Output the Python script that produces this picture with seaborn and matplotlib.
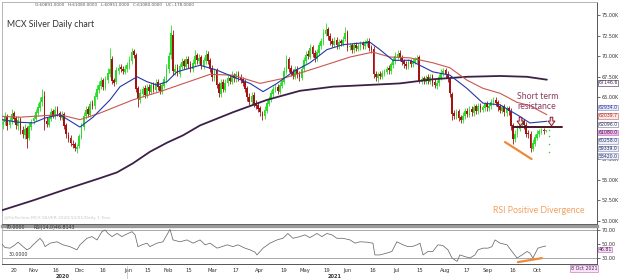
import numpy as np
import matplotlib
matplotlib.use("Agg")
import matplotlib.pyplot as plt
from matplotlib.lines import Line2D
from matplotlib.path import Path
import seaborn as sns

# ---------------- data (prices in thousands of rupees) ----------------
opens = [61.6, 62.0, 62.7, 61.6, 62.1, 63.1, 62.5, 61.5, 62.4, 61.1, 60.4, 61.3, 60.1,
         61.4, 62.1, 62.4, 63.1, 63.7, 64.4, 65.2, 62.1,
         61.7, 62.4, 63.3, 62.7, 63.6, 63.1, 62.5,
         63.0, 61.6, 60.4, 60.1, 59.4, 59.3, 58.7, 59.1,
         60.2, 61.4, 62.7, 63.6, 62.9, 64.3, 63.9, 65.1, 65.9, 66.4, 67.1, 66.2, 67.1, 67.9, 69.6, 67.1,
         66.9, 68.2, 68.7, 68.5, 68.1, 68.4,
         68.8, 69.4, 70.6, 70.1, 66.1,
         64.7, 65.4, 66.1, 65.2, 66.3, 65.7, 66.6, 65.9, 66.9, 66.4,
         65.7, 66.4, 67.1, 68.4, 70.1, 72.6,
         68.1, 68.6, 67.9, 68.7, 69.4, 68.7, 69.7, 69.1, 68.4, 69.1, 70.1, 69.4, 69.9, 68.7, 69.4, 70.3, 69.5, 68.6, 67.4,
         68.3, 66.6, 65.4, 66.9, 65.9, 66.7, 67.4, 66.9, 67.7, 67.2, 67.9, 67.5, 67.2,
         66.9, 66.1, 65.1, 64.4, 65.3, 64.3, 64.1, 63.7, 63.1, 62.7,
         63.4, 64.2, 64.7, 65.4, 65.9, 66.3, 65.7, 66.4, 66.9, 68.1,
         69.6, 68.6, 68.1, 67.5, 68.5, 67.9,
         67.4, 68.4, 69.4, 70.3, 69.9, 71.1, 70.4, 69.7, 70.4, 71.2, 71.7, 72.7,
         73.3, 72.5, 71.9, 71.4, 72.0, 71.2, 71.8, 71.5,
         72.1, 72.9, 71.1, 71.3, 70.7, 71.4, 70.9, 71.1, 71.6, 71.2, 71.5, 71.9, 71.1,
         70.9, 67.9, 67.4, 67.9, 67.5, 67.9, 68.1, 68.6,
         68.2, 68.9, 69.4, 69.9, 70.4, 69.9, 69.4, 69.1, 68.7, 69.4, 69.0, 69.3, 69.5,
         69.9,
         66.9, 67.3, 66.9, 67.5, 66.9, 67.6, 66.9, 66.4, 66.7, 67.4, 67.9, 68.3,
         67.9, 67.2, 65.4,
         63.1, 62.7, 63.3, 62.6, 62.2, 62.7,
         63.4, 62.9, 63.6, 63.1, 63.9, 63.3, 64.0, 63.5, 63.7, 64.3, 63.7, 63.9, 64.4,
         64.7, 64.4, 63.9, 63.4, 63.9, 63.1, 63.7,
         63.4, 61.6,
         59.9, 60.5, 61.2, 61.7, 62.1, 61.7,
         60.7, 60.6,
         58.7, 59.4, 60.1, 60.5, 60.8, 61.1, 60.891]
closes = [62.0, 62.8, 61.5, 62.2, 63.0, 62.4, 61.6, 62.3, 61.0, 60.5, 61.2, 60.0, 61.5,
          62.0, 62.5, 63.2, 63.8, 64.5, 65.0, 62.0, 61.8,
          62.5, 63.2, 62.8, 63.5, 63.0, 62.6, 62.9,
          61.5, 60.5, 60.0, 59.5, 59.2, 58.9, 59.0, 60.3,
          61.5, 62.8, 63.5, 63.0, 64.2, 64.0, 65.2, 66.0, 66.5, 67.0, 66.3, 67.2, 68.0, 68.5, 67.0, 66.8,
          68.3, 68.6, 68.4, 68.2, 68.5, 68.9,
          69.5, 70.5, 70.2, 66.0, 64.8,
          65.5, 66.0, 65.3, 66.2, 65.8, 66.5, 66.0, 66.8, 66.3, 65.8,
          66.5, 67.2, 68.5, 70.0, 72.8, 68.2,
          68.5, 68.0, 68.8, 69.3, 68.8, 69.6, 69.0, 68.5, 69.2, 70.0, 69.5, 69.8, 68.8, 69.5, 70.2, 69.4, 68.5, 67.5, 68.2,
          66.5, 65.5, 66.8, 66.0, 66.8, 67.3, 67.0, 67.6, 67.3, 67.8, 67.4, 67.1, 66.8,
          66.0, 65.0, 64.5, 65.2, 64.2, 64.0, 63.6, 63.2, 62.8, 63.5,
          64.3, 64.8, 65.5, 66.0, 66.2, 65.8, 66.5, 67.0, 68.2, 69.5,
          68.5, 68.0, 67.6, 68.4, 67.8, 67.5,
          68.5, 69.5, 70.2, 70.0, 71.0, 70.3, 69.8, 70.5, 71.3, 71.8, 72.8, 73.2,
          72.4, 71.8, 71.5, 71.9, 71.3, 71.7, 71.6, 72.0,
          72.8, 71.0, 71.2, 70.8, 71.3, 71.0, 71.2, 71.5, 71.3, 71.6, 71.8, 71.0, 70.8,
          67.8, 67.5, 67.8, 67.6, 68.0, 68.2, 68.5, 68.3,
          69.0, 69.5, 70.0, 70.3, 69.8, 69.3, 69.0, 68.8, 69.3, 69.1, 69.4, 69.6, 69.8,
          67.0,
          67.2, 67.0, 67.4, 67.0, 67.5, 66.8, 66.5, 66.8, 67.5, 68.0, 68.2, 67.8,
          67.3, 65.5, 63.0,
          62.8, 63.2, 62.5, 62.3, 62.8, 63.3,
          63.0, 63.5, 63.2, 63.8, 63.4, 63.9, 63.6, 63.8, 64.2, 63.8, 64.0, 64.5, 64.6,
          64.3, 63.8, 63.5, 63.8, 63.2, 63.6, 63.3,
          61.5, 60.0,
          60.6, 61.3, 61.8, 62.0, 61.6, 60.6,
          60.5, 58.8,
          59.5, 60.2, 60.6, 60.9, 61.0, 60.9, 61.08]
highs = [62.4, 63.2, 63.0, 62.6, 63.6, 63.4, 62.8, 62.7, 62.6, 61.5, 61.8, 61.5, 62.0,
         62.4, 62.9, 63.6, 64.3, 65.0, 66.0, 65.8, 62.6,
         62.9, 63.7, 63.6, 64.0, 63.9, 63.4, 63.3,
         63.2, 61.9, 60.8, 60.4, 59.8, 59.6, 59.4, 60.6,
         61.9, 63.2, 64.0, 64.0, 64.6, 64.7, 65.6, 66.5, 67.0, 67.5, 67.4, 67.6, 68.6, 71.0, 70.0, 67.4,
         68.7, 69.0, 69.0, 68.8, 68.9, 69.3,
         70.0, 71.0, 70.9, 70.4, 66.4,
         66.0, 66.4, 66.5, 66.6, 66.6, 66.9, 66.9, 67.2, 67.2, 66.7,
         66.9, 67.6, 69.0, 70.5, 73.8, 73.2,
         69.0, 69.0, 69.2, 69.8, 69.7, 70.0, 70.0, 69.4, 69.6, 70.8, 70.4, 70.3, 70.2, 69.9, 70.7, 70.6, 69.8, 68.9, 68.6,
         68.6, 66.9, 67.2, 67.2, 67.2, 67.7, 67.7, 68.2, 68.0, 68.2, 68.2, 67.8, 67.5,
         67.2, 66.4, 65.5, 65.6, 65.6, 64.7, 64.4, 64.0, 63.4, 63.9,
         64.7, 65.2, 65.9, 66.4, 66.6, 66.6, 66.9, 67.4, 68.7, 70.2,
         69.9, 68.9, 68.4, 68.8, 68.8, 68.2,
         68.9, 69.9, 70.6, 70.7, 71.5, 71.4, 70.7, 70.9, 71.7, 72.2, 73.3, 74.0,
         73.6, 72.8, 72.2, 72.3, 72.3, 72.1, 72.1, 72.4,
         73.5, 73.2, 71.6, 71.6, 71.7, 71.7, 71.6, 71.9, 71.9, 72.0, 72.2, 72.2, 71.4,
         71.2, 68.2, 68.1, 68.2, 68.3, 68.5, 68.8, 68.9,
         69.3, 69.9, 70.5, 70.7, 70.7, 70.2, 69.7, 69.4, 69.7, 69.7, 69.8, 69.9, 70.2,
         70.2,
         67.6, 67.6, 67.7, 67.8, 67.9, 67.9, 67.2, 67.1, 67.9, 68.4, 68.6, 68.6,
         68.2, 67.5, 65.7,
         63.5, 63.6, 63.6, 62.9, 63.2, 63.7,
         63.7, 63.9, 63.9, 64.2, 64.2, 64.3, 64.3, 64.1, 64.5, 64.6, 64.3, 64.8, 65.0,
         65.0, 64.7, 64.2, 64.1, 64.2, 63.9, 64.0,
         63.7, 61.9,
         61.0, 61.7, 62.2, 62.4, 62.4, 62.0,
         61.0, 60.9,
         59.9, 60.6, 61.0, 61.2, 61.3, 61.3, 61.08]
lows = [61.2, 61.7, 61.1, 61.3, 61.8, 62.0, 61.2, 61.1, 60.6, 60.1, 60.0, 58.8, 59.8,
        61.0, 61.8, 62.1, 62.8, 63.4, 64.0, 61.0, 61.4,
        61.4, 62.1, 62.5, 62.4, 62.7, 62.2, 62.2,
        61.2, 60.1, 59.6, 59.1, 58.8, 58.5, 58.2, 58.8,
        59.9, 61.0, 62.4, 62.6, 62.6, 63.6, 63.6, 64.8, 65.5, 66.0, 65.9, 65.9, 66.8, 67.5, 66.6, 66.4,
        66.6, 67.9, 68.1, 67.9, 67.8, 68.1,
        68.5, 69.0, 69.8, 65.6, 63.8,
        64.3, 65.0, 64.9, 64.9, 65.4, 65.4, 65.6, 65.6, 65.9, 65.4,
        65.4, 66.1, 66.8, 68.0, 69.7, 67.7,
        67.7, 67.6, 67.5, 68.4, 68.4, 68.4, 68.6, 68.1, 68.1, 68.8, 69.1, 69.0, 68.4, 68.4, 69.1, 69.0, 68.1, 67.0, 67.0,
        66.1, 65.0, 65.1, 65.6, 65.6, 66.4, 66.6, 66.6, 66.9, 66.9, 67.0, 66.7, 66.4,
        65.6, 64.6, 64.1, 64.1, 63.8, 63.6, 63.2, 62.8, 62.3, 62.4,
        63.1, 63.9, 64.4, 65.1, 65.6, 65.4, 65.4, 66.1, 66.6, 67.8,
        68.1, 67.6, 67.2, 67.2, 67.4, 67.0,
        67.1, 68.1, 69.1, 69.6, 69.6, 69.9, 69.3, 69.4, 70.1, 70.9, 71.4, 72.4,
        72.0, 71.4, 71.1, 71.1, 70.9, 70.9, 71.2, 71.2,
        71.8, 70.6, 70.8, 70.4, 70.4, 70.6, 70.6, 70.8, 70.9, 70.9, 71.2, 70.6, 70.4,
        67.4, 67.0, 66.9, 67.2, 67.2, 67.6, 67.8, 67.9,
        67.9, 68.6, 69.1, 69.6, 69.4, 68.9, 68.6, 68.4, 68.4, 68.7, 68.7, 69.0, 69.2,
        66.7,
        66.6, 66.6, 66.6, 66.6, 66.6, 66.4, 66.1, 66.0, 66.4, 67.1, 67.6, 67.4,
        66.9, 65.1, 62.3,
        62.4, 62.4, 62.1, 61.9, 61.9, 62.4,
        62.6, 62.6, 62.8, 62.8, 63.0, 63.0, 63.2, 63.2, 63.4, 63.4, 63.4, 63.6, 64.1,
        63.9, 63.4, 63.1, 63.1, 62.8, 62.8, 62.9,
        61.1, 59.3,
        59.6, 60.2, 60.9, 61.4, 61.2, 60.2,
        60.1, 58.4,
        58.5, 59.1, 59.8, 60.2, 60.5, 60.6, 60.85]

# moving averages: (bar index, value in thousands)
ma20_x = [-0.5, 6.4, 13.8, 19.3, 26.1, 35.3, 41.3, 49.1, 53.7, 61.5, 66.1, 70.6, 75.2, 79.8, 90.4,
          98.2, 105.5, 113.3, 119.3, 125.7, 133.0, 140.8, 148.6, 156.0, 168.3, 172.9, 178.9, 186.7,
          197.2, 205.0, 212.8, 220.2, 228.0, 235.8, 241.7, 249.5]
ma20_v = [62.3, 62.0, 61.9, 62.5, 62.9, 61.4, 62.6, 64.7, 66.3, 67.5, 66.9, 66.5, 66.9, 68.1, 68.9,
          68.3, 67.5, 66.7, 65.7, 66.7, 68.1, 69.2, 70.8, 71.4, 71.7, 70.8, 69.5, 69.5,
          68.1, 67.7, 66.1, 64.3, 64.1, 62.9, 61.9, 62.1]
ma50_x = [-0.5, 7.8, 26.1, 35.3, 44.5, 59.6, 72.0, 95.0, 105.5, 117.9, 128.4, 144.0, 159.2, 169.7,
          177.5, 186.7, 197.2, 205.0, 212.8, 220.2, 228.0, 235.8, 241.7, 249.5]
ma50_v = [62.7, 62.6, 62.9, 62.3, 63.1, 64.7, 65.7, 67.8, 67.7, 66.7, 67.3, 68.6, 69.9, 70.5,
          69.9, 69.8, 69.2, 68.6, 67.1, 66.1, 65.5, 64.4, 64.0, 62.9]
ma200_x = [-0.5, 13.8, 29.4, 44.5, 52.3, 59.6, 67.4, 75.2, 82.6, 90.4, 105.5, 121.1, 136.2, 151.4,
           167.0, 182.1, 197.2, 212.8, 228.0, 240.4, 249.5]
ma200_v = [51.3, 52.5, 53.9, 55.2, 55.9, 57.0, 58.4, 59.5, 60.4, 61.6, 63.2, 64.7, 65.8, 66.3,
           66.5, 66.7, 67.2, 67.5, 67.6, 67.5, 67.15]

# RSI(14)
rsi_x = [-0.5, 0.9, 3.2, 5.5, 6.9, 9.2, 11.0, 12.4, 13.8, 17.0, 18.3, 19.3, 21.6, 24.8, 27.5, 30.7,
         33.9, 35.3, 38.5, 40.8, 43.1, 45.4, 46.8, 48.2, 50.0, 52.3, 54.6, 56.0, 59.2, 60.6, 61.9,
         63.8, 66.1, 67.4, 70.6, 73.4, 75.2, 76.6, 78.0, 81.2, 84.4, 87.2, 90.4, 92.7, 95.0, 98.2,
         100.5, 102.8, 105.5, 107.8, 111.0, 113.3, 115.6, 116.5, 119.3, 122.5, 125.7, 128.4, 130.7,
         133.0, 136.2, 138.5, 140.8, 144.0, 146.3, 148.6, 150.9, 153.2, 156.0, 159.2, 161.5, 163.8,
         167.0, 169.7, 170.6, 172.9, 176.1, 178.4, 180.7, 183.5, 185.8, 187.6, 189.9, 191.3, 192.7,
         195.0, 197.2, 199.5, 201.8, 204.1, 206.0, 208.3, 209.6, 211.9, 214.2, 216.5, 217.9, 220.2,
         222.5, 224.3, 225.7, 228.0, 231.2, 233.5, 235.8, 238.1, 240.4, 241.7, 243.1, 245.4, 247.7,
         249.0]
rsi_v = [49.6, 44.7, 43.8, 48.6, 52.4, 46.0, 41.4, 43.8, 48.6, 58.0, 53.0, 46.0, 51.0, 53.0, 48.6, 46.0,
         41.4, 48.6, 58.0, 60.5, 55.7, 67.6, 70.0, 65.0, 60.5, 65.0, 60.5, 63.0, 67.6, 63.0, 46.0,
         48.6, 51.0, 46.0, 51.0, 53.0, 63.0, 71.0, 55.7, 53.0, 55.7, 51.0, 55.7, 48.6, 51.0, 43.8,
         46.0, 48.6, 46.0, 48.6, 43.8, 41.4, 38.0, 34.0, 43.8, 51.0, 55.7, 58.0, 65.0,
         58.0, 60.5, 63.0, 59.0, 65.0, 60.5, 65.0, 63.0, 58.0, 58.0, 55.7, 51.0, 53.0,
         52.4, 51.0, 34.0, 34.0, 36.7, 39.0, 53.0, 48.6, 46.0, 46.0, 48.6, 51.0, 34.0,
         39.0, 39.0, 48.6, 47.6, 41.4, 29.5, 24.7, 34.0, 31.6, 29.5, 34.0, 41.4, 43.8,
         43.8, 46.0, 55.7, 51.0, 48.6, 39.0, 29.5, 34.0, 39.0, 36.7, 29.5, 43.8, 46.0,
         46.81]

# axis labels (62.50K and 60.00K sit behind the level boxes in the original)
price_ticks = [50.0, 52.5, 55.0, 57.5, 60.0, 62.5, 65.0, 67.5, 70.0, 72.5, 75.0]
price_hidden = [60.0, 62.5]
rsi_ticks = [30, 50, 70]
date_tick_pos = [5.0, 13.8, 24.3, 35.3, 45.9, 57.3, 66.5, 75.7, 85.3, 96.3, 106.9, 117.9, 128.9,
                 138.5, 148.6, 157.8, 169.7, 180.7, 191.3, 202.8, 212.8, 222.5, 234.0, 245.0]
date_tick_labels = ["20", "Nov", "16", "Dec", "16", "Jan", "15", "Feb", "15", "Mar", "17", "Apr",
                    "19", "May", "19", "Jun", "16", "Jul", "15", "Aug", "17", "Sep", "16", "Oct"]

# level boxes on the right axis
level_labels = ["67146.6", "62934.0", "62039.7", "62096.0", "61080.0", "60258.0", "59339.0", "58420.0"]
support_dots = [61.08, 60.258, 59.339, 58.42]
resistance_level = 61.35
divergence_price = ([230.3, 242.5], [59.58, 57.52])
divergence_rsi = ([236.2, 247.2], [23.6, 29.4])
arrow_idx = [237.0, 251.5]

# ---------------- styling / layout ----------------
sns.set_theme(style="white")
plt.rcParams['font.family'] = ['DejaVu Sans']

W, H = 620, 279
fig = plt.figure(figsize=(6.2, 2.79), dpi=100)
fig.patch.set_facecolor("white")


def fx(px):
    return px / W


def fy(py):
    return 1 - py / H


ax = fig.add_axes([fx(2), fy(224), fx(597) - fx(2), fy(2) - fy(224)])
rax = fig.add_axes([fx(2), fy(264), fx(597) - fx(2), fy(226) - fy(264)])

XL = (-0.46, 272.5)
GREEN = "#2bdc2b"
RED = "#a51212"

o = np.array(opens)
c = np.array(closes)
h = np.array(highs)
lo = np.array(lows)
x = np.arange(len(c))
up = c >= o
cols = np.where(up, GREEN, RED)

ax.vlines(x, lo, h, colors=cols, lw=0.6, zorder=2)
ax.bar(x, np.maximum(np.abs(c - o), 0.07), bottom=np.minimum(o, c), width=0.8,
       color=cols, linewidth=0, zorder=2)

sns.lineplot(x=ma200_x, y=ma200_v, ax=ax, color="#3b2147", lw=1.3, zorder=3)
sns.lineplot(x=ma50_x, y=ma50_v, ax=ax, color="#c8574f", lw=0.8, zorder=3)
sns.lineplot(x=ma20_x, y=ma20_v, ax=ax, color="#2536a8", lw=0.8, zorder=3)

TICK_FS = 3.5
ax.set_xlim(*XL)
ax.set_ylim(49.636, 76.578)
ax.set_xticks([])
ax.yaxis.tick_right()
ax.set_yticks(price_ticks)
ax.set_yticklabels(["" if t in price_hidden else f"{t:.2f}K" for t in price_ticks],
                   fontsize=TICK_FS, color="#333333")
ax.tick_params(axis="y", length=2, width=0.5, pad=1, colors="#333333")
for s in ["left", "top"]:
    ax.spines[s].set_color("#aaaaaa")
    ax.spines[s].set_linewidth(0.6)
for s in ["right", "bottom"]:
    ax.spines[s].set_color("#555555")
    ax.spines[s].set_linewidth(0.7)

# annotations on the price panel
ax.text(1.8, 73.9, "MCX Silver Daily chart", fontsize=6.3, color="#333333",
        family=["Lato", "DejaVu Sans"], va="center", ha="left")
ax.text(235.8, 65.17, "Short term", fontsize=6.3, color="#8a3a62",
        family=["Lato", "DejaVu Sans"], va="center", ha="left")
ax.text(235.8, 63.95, "resistance", fontsize=6.3, color="#8a3a62",
        family=["Lato", "DejaVu Sans"], va="center", ha="left")
ax.text(224.8, 51.33, "RSI Positive Divergence", fontsize=6.3, color="#f0a060",
        family=["Lato", "DejaVu Sans"], va="center", ha="left")
ax.text(0.5, 50.35, "@FinTechno MCX SILVER 2020/10/05/Daily 1 Year", fontsize=3.2,
        color="#c8c8c8", va="center", ha="left")

ax.plot([234, 256.5], [resistance_level, resistance_level], color="#4a1526", lw=1.4, zorder=4)
ax.plot(*divergence_price, color="#ee8a3a", lw=1.6, zorder=4)

# block "down" arrow markers above the resistance line
arrow_marker = Path([(-0.3, 1.0), (0.3, 1.0), (0.3, 0.1), (0.8, 0.1), (0.0, -1.0),
                     (-0.8, 0.1), (-0.3, 0.1), (-0.3, 1.0)])
ax.scatter(arrow_idx, [resistance_level + 0.75] * len(arrow_idx), marker=arrow_marker, s=38,
           facecolors="#f6e6ea", edgecolors="#8a1a2a", linewidths=0.7, zorder=6)
ax.scatter([250.7] * len(support_dots), support_dots, s=1.2, color="#3ccc3c", zorder=4, linewidths=0)

# right-hand level boxes
BOX_FS = 3.3
box_py = [83, 107.5, 116, 124.5, 132.5, 141, 148.5, 156]
box_fc = ["white", "#e9ecf7", "#fbe6e6", "white", "#f2b8ee", "#eef0f6", "#eef0f6", "#eef0f6"]
box_ec = ["#3b2147", "#7a86c0", "#c8574f", "#6b6b8a", "#b060b0", "#8088b0", "#8088b0", "#8088b0"]
box_tc = ["#3b2147", "#2536a8", "#b03030", "#303060", "#401040", "#203070", "#203070", "#203070"]
for lab, py, fcol, ecol, tcol in zip(level_labels, box_py, box_fc, box_ec, box_tc):
    fig.text(fx(598.5), fy(py), lab, fontsize=BOX_FS, color=tcol, ha="left", va="center",
             bbox=dict(boxstyle="square,pad=0.1", fc=fcol, ec=ecol, lw=0.4), zorder=10)

# header line
fig.text(fx(35), fy(4.5), "O:60891.0000   H:61080.0000   L:60951.0000   C:61080.0000   UC:-178.0000",
         fontsize=3.0, color="#555555", ha="left", va="center")

# ---------------- RSI panel ----------------
sns.lineplot(x=rsi_x, y=rsi_v, ax=rax, color="#6a6a6a", lw=0.55, zorder=3)
rax.axhline(70, color="#999999", lw=0.6, zorder=2)
rax.axhline(30, color="#999999", lw=0.6, zorder=2)
rax.plot(*divergence_rsi, color="#ee8a3a", lw=1.6, zorder=4)
rax.set_xlim(*XL)
rax.set_ylim(20.9, 75.8)
rax.yaxis.tick_right()
rax.set_yticks(rsi_ticks)
rax.set_yticklabels([f"{t:.2f}" for t in rsi_ticks], fontsize=TICK_FS, color="#333333")
rax.tick_params(axis="y", length=2, width=0.5, pad=1, colors="#333333")
rax.set_xticks(date_tick_pos)
rax.set_xticklabels(date_tick_labels, fontsize=3.8, color="#333333")
rax.tick_params(axis="x", length=2, width=0.5, pad=1.2, colors="#333333")
rax.spines["top"].set_color("#9a9a9a")
rax.spines["top"].set_linewidth(2.4)
for s in ["left"]:
    rax.spines[s].set_color("#aaaaaa")
    rax.spines[s].set_linewidth(0.6)
for s in ["right", "bottom"]:
    rax.spines[s].set_color("#555555")
    rax.spines[s].set_linewidth(0.7)
rax.set_ylabel("")
ax.set_ylabel("")

rax.text(1.0, 73.0, "70.0000", fontsize=3.4, color="#333333", ha="left", va="center")
rax.text(13.8, 73.0, "RSI(14,0)46.8143", fontsize=3.4, color="#333333", ha="left", va="center")
rax.text(2.4, 34.5, "30.0000", fontsize=3.4, color="#333333", ha="left", va="center")
fig.text(fx(598.5), fy(249.5), "46.81", fontsize=BOX_FS, color="#502050", ha="left", va="center",
         bbox=dict(boxstyle="square,pad=0.1", fc="#f6dcf4", ec="#b060b0", lw=0.4), zorder=10)

# year labels, separator, date box
fig.text(fx(63), fy(276), "2020", fontsize=3.6, color="#333333", ha="center", va="center",
         fontweight="bold")
fig.text(fx(335), fy(276), "2021", fontsize=3.6, color="#333333", ha="center", va="center",
         fontweight="bold")
fig.add_artist(Line2D([fx(127), fx(127)], [fy(266), fy(279)], color="#bbbbbb", lw=0.5))
fig.text(fx(571), fy(268.5), "8 Oct 2021", fontsize=3.4, color="#502060", ha="left", va="center",
         bbox=dict(boxstyle="square,pad=0.15", fc="#f8e4f6", ec="#b070b0", lw=0.4))

fig.savefig("out.png", dpi=100)
